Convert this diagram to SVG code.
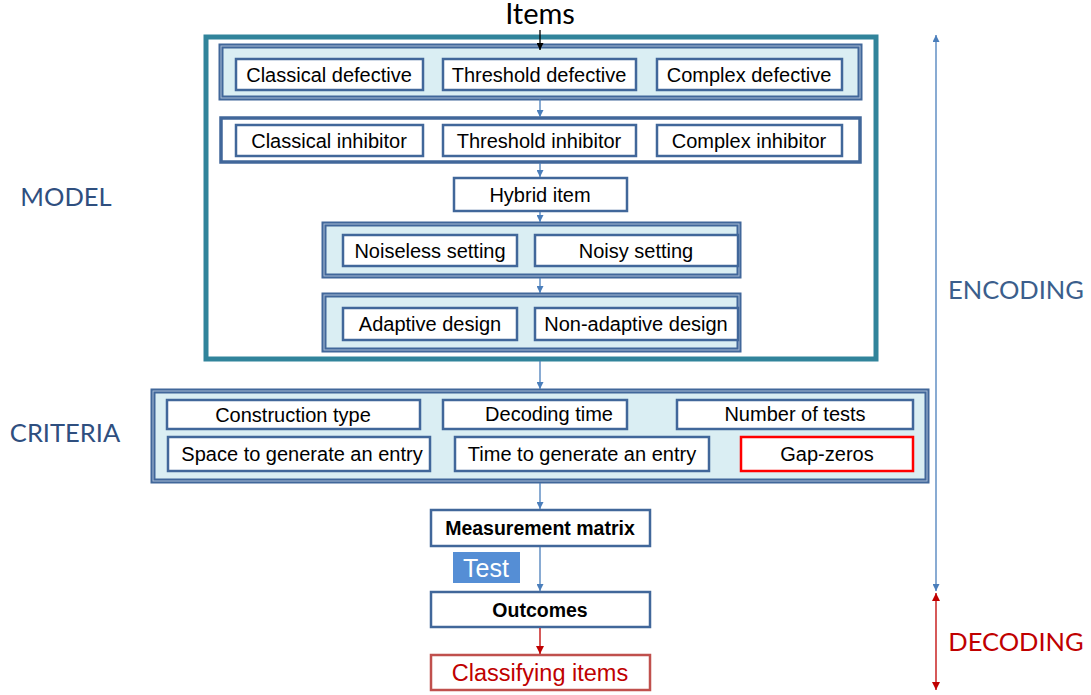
<svg xmlns="http://www.w3.org/2000/svg" width="1091" height="695" viewBox="0 0 1091 695">
<style>
.box{fill:#fff;stroke:#41679A;stroke-width:2.5}
.grp{fill:#DAEEF3;stroke:#41679A;stroke-width:5}
.grpi{fill:none;stroke:#A9BDD6;stroke-width:1}
.t{font-family:"Liberation Sans",Arial,sans-serif;font-size:20px;fill:#000;text-anchor:middle;dominant-baseline:central}
.b{font-weight:bold;font-size:19.5px}
.lab{font-family:Lato,"Open Sans",sans-serif;font-size:25.5px;text-anchor:middle;dominant-baseline:central}
.con{stroke:#4A7EBB;stroke-width:1.3;fill:none}
</style>
<defs>
<marker id="ab" viewBox="0 0 10 10" refX="10" refY="5" markerWidth="7" markerHeight="7" markerUnits="userSpaceOnUse" orient="auto-start-reverse"><path d="M0,0 L10,5 L0,10 z" fill="#4A7EBB"/></marker>
<marker id="ar" viewBox="0 0 10 10" refX="10" refY="5" markerWidth="8" markerHeight="8" markerUnits="userSpaceOnUse" orient="auto-start-reverse"><path d="M0,0 L10,5 L0,10 z" fill="#C00000"/></marker>
<marker id="ak" viewBox="0 0 10 10" refX="10" refY="5" markerWidth="7" markerHeight="7" markerUnits="userSpaceOnUse" orient="auto"><path d="M0,0 L10,5 L0,10 z" fill="#000"/></marker>
</defs>

<text class="lab" x="540" y="12" fill="#000" style="font-size:29px">Items</text>
<text class="lab" x="66" y="196" fill="#2F4F7F">MODEL</text>
<text class="lab" x="65" y="432" fill="#2F4F7F">CRITERIA</text>
<text class="lab" x="1016" y="289" fill="#3B5E8C">ENCODING</text>
<text class="lab" x="1016" y="641" fill="#C00000">DECODING</text>

<g id="model">
<rect x="206" y="37" width="670" height="322" fill="#fff" stroke="#31849B" stroke-width="5"/>
</g>

<g id="defective">
<rect class="grp" x="221" y="46" width="639" height="52"/>
<rect class="grpi" x="221" y="46" width="639" height="52"/>
<rect class="box" x="236" y="59" width="187" height="31"/><text class="t" x="329" y="75">Classical defective</text>
<rect class="box" x="443" y="59" width="193" height="31"/><text class="t" x="539" y="75">Threshold defective</text>
<rect class="box" x="657" y="59" width="185" height="31"/><text class="t" x="749" y="75">Complex defective</text>
</g>

<g id="inhibitor">
<rect x="221" y="118" width="639" height="44" fill="#fff" stroke="#41679A" stroke-width="3.5"/>
<rect class="box" x="236" y="125" width="187" height="31"/><text class="t" x="329" y="141">Classical inhibitor</text>
<rect class="box" x="443" y="125" width="193" height="31"/><text class="t" x="539" y="141">Threshold inhibitor</text>
<rect class="box" x="657" y="125" width="185" height="31"/><text class="t" x="749" y="141">Complex inhibitor</text>
</g>

<g id="hybrid">
<rect class="box" x="454" y="178" width="173" height="33"/><text class="t" x="540" y="195">Hybrid item</text>
</g>

<g id="setting">
<rect class="grp" x="324" y="224" width="415" height="52"/>
<rect class="grpi" x="324" y="224" width="415" height="52"/>
<rect class="box" x="343" y="235" width="174" height="31"/><text class="t" x="430" y="251">Noiseless setting</text>
<rect class="box" x="535" y="235" width="203" height="31"/><text class="t" x="636" y="251">Noisy setting</text>
</g>

<g id="design">
<rect class="grp" x="324" y="295" width="415" height="55"/>
<rect class="grpi" x="324" y="295" width="415" height="55"/>
<rect class="box" x="343" y="308" width="174" height="32"/><text class="t" x="430" y="324">Adaptive design</text>
<rect class="box" x="535" y="308" width="203" height="32"/><text class="t" x="636" y="324">Non-adaptive design</text>
</g>

<g id="criteria">
<rect class="grp" x="153" y="391" width="774" height="90"/>
<rect class="grpi" x="153" y="391" width="774" height="90"/>
<rect class="box" x="167" y="400" width="253" height="29"/><text class="t" x="293" y="415">Construction type</text>
<rect class="box" x="443" y="400" width="184" height="29"/><text class="t" x="549" y="414">Decoding time</text>
<rect class="box" x="677" y="400" width="236" height="29"/><text class="t" x="795" y="414">Number of tests</text>
<rect class="box" x="168" y="437" width="262" height="34"/><text class="t" x="302" y="454">Space to generate an entry</text>
<rect class="box" x="455" y="437" width="254" height="34"/><text class="t" x="582" y="454">Time to generate an entry</text>
<rect x="741" y="437" width="172" height="34" fill="#fff" stroke="#FF0000" stroke-width="2.5"/><text class="t" x="827" y="454">Gap-zeros</text>
</g>

<g id="matrix">
<rect class="box" x="431" y="510" width="219" height="36"/><text class="t b" x="540" y="528">Measurement matrix</text>
</g>

<g id="test">
<rect x="453" y="552" width="67" height="31" fill="#558ED5"/><text class="t" x="486" y="568" style="font-size:25px;fill:#fff">Test</text>
</g>

<g id="outcomes">
<rect class="box" x="431" y="592" width="219" height="35"/><text class="t b" x="540" y="610">Outcomes</text>
</g>

<g id="classifying">
<rect x="431" y="655" width="219" height="35" fill="#fff" stroke="#C0504D" stroke-width="2.5"/><text class="t" x="540" y="673" style="font-size:23.5px;fill:#C00000">Classifying items</text>
</g>

<g id="connectors">
<line x1="540" y1="30" x2="540" y2="50" stroke="#000" stroke-width="1.3" marker-end="url(#ak)"/>
<line class="con" x1="540" y1="99" x2="540" y2="117" marker-end="url(#ab)"/>
<line class="con" x1="540" y1="163" x2="540" y2="177" marker-end="url(#ab)"/>
<line class="con" x1="540" y1="212" x2="540" y2="222" marker-end="url(#ab)"/>
<line class="con" x1="540" y1="278" x2="540" y2="293" marker-end="url(#ab)"/>
<line class="con" x1="540" y1="361" x2="540" y2="389" marker-end="url(#ab)"/>
<line class="con" x1="540" y1="483" x2="540" y2="509" marker-end="url(#ab)"/>
<line class="con" x1="540" y1="547" x2="540" y2="591" marker-end="url(#ab)"/>
<line x1="540" y1="628" x2="540" y2="654" stroke="#C00000" stroke-width="1.3" marker-end="url(#ar)"/>
<line class="con" x1="936" y1="35" x2="936" y2="591" marker-start="url(#ab)" marker-end="url(#ab)"/>
<line x1="936" y1="593" x2="936" y2="690" stroke="#C00000" stroke-width="1.3" marker-start="url(#ar)" marker-end="url(#ar)"/>
</g>
</svg>
